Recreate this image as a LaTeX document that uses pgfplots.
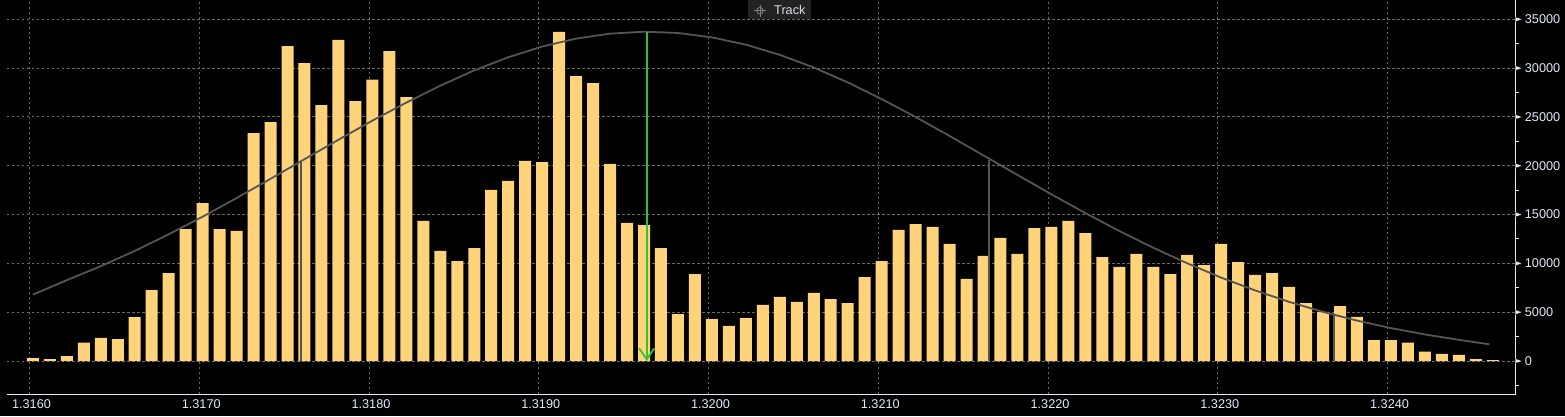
\documentclass[border=0pt]{standalone}
\usepackage{pgfplots}
\pgfplotsset{compat=1.18}
\usepackage{pgfplotstable}
\usepackage{fontspec}
\setmainfont{Liberation Sans}
\usetikzlibrary{arrows.meta}
\definecolor{barc}{RGB}{255,211,122}
\definecolor{curvec}{RGB}{85,85,85}
\definecolor{gridc}{RGB}{105,105,105}
\definecolor{txtc}{RGB}{226,234,246}
\definecolor{arrc}{RGB}{50,195,50}
\definecolor{btnc}{RGB}{34,34,34}

% x = (price - 1.3160) * 10000
\pgfplotstableread{
x y
0.2 300
1.2 200
2.2 510
3.2 1880
4.2 2360
5.2 2250
6.2 4500
7.2 7270
8.2 9010
9.2 13520
10.2 16180
11.2 13520
12.2 13320
13.2 23350
14.2 24480
15.2 32260
16.2 30520
17.2 26220
18.2 32880
19.2 26630
20.2 28810
21.2 31750
22.2 27040
23.2 14340
24.2 11270
25.2 10240
26.2 11570
27.2 17520
28.2 18440
29.2 20490
30.2 20380
31.2 33700
32.2 29190
33.2 28470
34.2 20180
35.2 14140
36.2 13930
37.2 11570
38.2 4810
39.2 8910
40.2 4300
41.2 3590
42.2 4400
43.2 5740
44.2 6560
45.2 6050
46.2 6970
47.2 6350
48.2 5940
49.2 8600
50.2 10240
51.2 13420
52.2 14030
53.2 13730
54.2 11990
55.2 8400
56.2 10760
57.2 12600
58.2 10960
59.2 13620
60.2 13730
61.2 14340
62.2 13110
63.2 10650
64.2 9630
65.2 10960
66.2 9630
67.2 8910
68.2 10860
69.2 9830
70.2 11990
71.2 10140
72.2 8810
73.2 9010
74.2 7580
75.2 5940
76.2 5020
77.2 5630
78.2 4510
79.2 2150
80.2 2150
81.2 1880
82.2 950
83.2 720
84.2 615
85.2 205
86.2 100
}\bars

\pgfplotstableread{
x y
0.2 6800
2.2 8280
4.2 9710
6.2 11270
8.2 12980
10.2 14780
12.2 16690
14.2 18660
16.2 20670
18.2 22660
20.2 24620
22.2 26470
24.2 28200
26.2 29770
28.2 31110
30.2 32210
32.2 33020
34.2 33530
36.2 33730
38.2 33600
40.2 33150
42.2 32400
44.2 31360
46.2 30060
48.2 28540
50.2 26830
52.2 24990
54.2 23050
56.2 21050
58.2 19060
60.2 17070
62.2 15150
64.2 13320
66.2 11600
68.2 10010
70.2 8540
72.2 7230
74.2 6060
76.2 5030
78.2 4140
80.2 3370
82.2 2720
84.2 2170
86.0 1710
}\curve

\begin{document}
\begin{tikzpicture}[x=1pt,y=1pt]
\fill[black] (-7,-21.7) rectangle (1558,394.3);
\begin{axis}[
  at={(0,0)}, anchor=south west,
  scale only axis, width=1508.7pt, height=394.3pt,
  xmin=-1.325, xmax=87.55, ymin=-3411, ymax=36976,
  clip=false,
  axis x line*=bottom, axis y line*=right,
  axis line style={-, draw=txtc, line width=1.3pt},
  xtick={0,10,...,80},
  xticklabels={1.3160,1.3170,1.3180,1.3190,1.3200,1.3210,1.3220,1.3230,1.3240},
  ytick={0,5000,...,35000},
  yticklabels={0,5000,10000,15000,20000,25000,30000,35000},
  minor ytick={-2500,2500,7500,12500,17500,22500,27500,32500},
  major tick length=0pt, minor tick length=3pt, tick align=outside,
  minor tick style={draw=txtc, line width=1pt},
  xmajorgrids, ymajorgrids,
  grid style={draw=gridc, line width=0.9pt, dash pattern=on 2.5pt off 2.5pt},
  tick label style={font=\fontsize{12.7}{14}\selectfont, text=txtc},
  xticklabel style={anchor=north, inner sep=0pt, yshift=-4.7pt, xshift=2pt},
  yticklabel style={anchor=west, inner sep=0pt, xshift=9pt},
]
\addplot[ybar, bar width=12pt, fill=barc, draw=none] table {\bars};
\addplot[curvec, line width=1.8pt, mark=none] table {\curve};
\addplot[curvec, line width=1.8pt, mark=none] coordinates {(16.0,0) (16.0,20410)};
\addplot[curvec, line width=1.8pt, mark=none] coordinates {(56.5,0) (56.5,20590)};
\addplot[curvec, line width=1.8pt, mark=none] coordinates {(76.83,0) (76.83,4710)};
\addplot[arrc, line width=1.8pt, mark=none, -{Straight Barb[length=11pt,width=15pt,line width=1.8pt]}] coordinates {(36.36,33730) (36.36,0)};
\addplot[only marks, mark=triangle*, mark size=2.7pt,
  mark options={fill=txtc, draw=none, xshift=2.3pt, xscale=1.7, rotate=-90}]
  coordinates {(87.55,0) (87.55,5000) (87.55,10000) (87.55,15000) (87.55,20000) (87.55,25000) (87.55,30000) (87.55,35000)};
\end{axis}
% Track button
\fill[btnc] (741,375.3) rectangle (803.7,394.3);
\draw[gray, line width=0.8pt] (753,383.6) circle (3.3);
\draw[gray, line width=0.8pt] (747,383.6) -- (759,383.6) (753,377.6) -- (753,389.6);
\node[anchor=west, inner sep=0pt, text={rgb,255:red,215;green,220;blue,228}, font=\fontsize{12.7}{14}\selectfont] at (767,384.3) {Track};
\pgfresetboundingbox
\useasboundingbox (-7,-21.7) rectangle (1558,394.3);
\end{tikzpicture}
\end{document}
